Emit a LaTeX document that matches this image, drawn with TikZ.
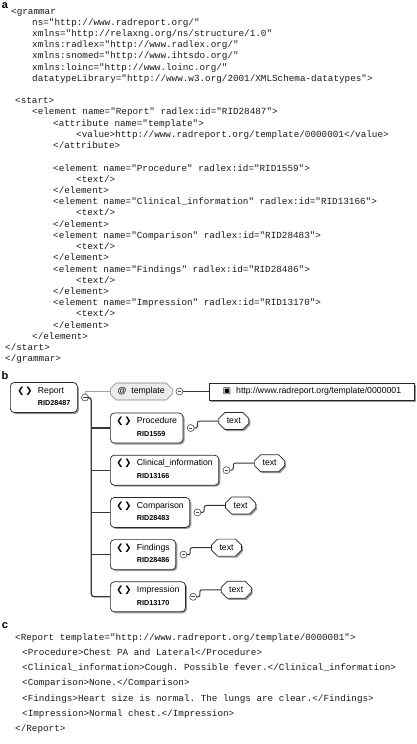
\documentclass[tikz,border=0pt]{standalone}
\usepackage{fontspec}
\setmainfont{Liberation Sans}
\setmonofont{Liberation Mono}
\newfontfamily\symfont{DejaVu Sans}
\usepackage{tikz}
\usetikzlibrary{positioning}
\usetikzlibrary{shapes.misc}
\usetikzlibrary{shadows}

\definecolor{treegray}{RGB}{55,55,55}
\definecolor{attrgray}{RGB}{160,160,160}
\definecolor{attrfill}{RGB}{236,236,236}

\newcommand{\elemlabel}[2]{%
  \begin{tabular}{@{}l@{\hspace{5.5pt}}l@{}}
    {\symfont\fontsize{8.5}{10}\selectfont ❮\hspace{0.8pt}❯} & #1\\[2.5pt]
    & {\fontsize{7.2}{8}\selectfont\bfseries #2}
  \end{tabular}}

\tikzset{
  panel/.style={font=\fontsize{11}{11}\selectfont\bfseries, inner sep=0pt},
  code/.style={font=\fontsize{9.3}{11}\selectfont\ttfamily, text=black!90, anchor=base west, inner sep=0pt},
  boxshadow/.style={drop shadow={shadow xshift=1.5pt, shadow yshift=-1.5pt, fill=black!40, opacity=1}},
  elem/.style={draw=black!85, line width=0.7pt, fill=white, rounded corners=4pt, boxshadow,
    minimum height=30pt, inner xsep=6pt, inner ysep=2pt, anchor=west,
    font=\fontsize{8.7}{10}\selectfont},
  txt/.style={chamfered rectangle, chamfered rectangle xsep=3pt, chamfered rectangle ysep=3pt,
    draw=black!85, line width=0.7pt, fill=white, boxshadow, minimum width=30pt,
    minimum height=17pt, inner sep=1pt, font=\fontsize{8.7}{10}\selectfont},
  attr/.style={chamfered rectangle, chamfered rectangle xsep=3pt, chamfered rectangle ysep=3pt,
    draw=black!50, line width=0.6pt, fill=attrfill, minimum width=62pt,
    minimum height=17pt, inner sep=1pt, font=\fontsize{8.7}{10}\selectfont},
  valbox/.style={draw=black!85, line width=0.7pt, fill=white, boxshadow, minimum width=205pt,
    minimum height=17pt, inner xsep=8pt, inner ysep=1pt, font=\fontsize{8.7}{10}\selectfont},
  minus/.style={circle, draw=black!70, fill=white, line width=0.6pt, minimum size=7pt, inner sep=0pt,
    path picture={\draw[line width=0.7pt] ([xshift=-1.8pt]path picture bounding box.center)
      -- ([xshift=1.8pt]path picture bounding box.center);}},
  branch/.style={draw=treegray, line width=1.3pt},
  textlink/.style={draw=treegray, line width=1pt},
  attrlink/.style={draw=attrgray, line width=0.6pt},
}

\begin{document}
\begin{tikzpicture}[x=1pt, y=-1pt]
  \useasboundingbox (0,0) rectangle (416,744);

  % a: RELAX NG schema
  \node[panel] (lbla) at (5,6) {a};
  \foreach \x/\k/\codetext in {
      11/0/{<grammar},
      32/1/{ns="http://www.radreport.org/"},
      32/2/{xmlns="http://relaxng.org/ns/structure/1.0"},
      32/3/{xmlns:radlex="http://www.radlex.org/"},
      32/4/{xmlns:snomed="http://www.ihtsdo.org/"},
      32/5/{xmlns:loinc="http://www.loinc.org/"},
      32/6/{datatypeLibrary="http://www.w3.org/2001/XMLSchema-datatypes">},
      15/8/{<start>},
      32/9/{<element name="Report" radlex:id="RID28487">},
      53/10/{<attribute name="template">},
      76/11/{<value>http://www.radreport.org/template/0000001</value>},
      53/12/{</attribute>},
      53/14/{<element name="Procedure" radlex:id="RID1559">},
      76/15/{<text/>},
      53/16/{</element>},
      53/17/{<element name="Clinical\_information" radlex:id="RID13166">},
      76/18/{<text/>},
      53/19/{</element>},
      53/20/{<element name="Comparison" radlex:id="RID28483">},
      76/21/{<text/>},
      53/22/{</element>},
      53/23/{<element name="Findings" radlex:id="RID28486">},
      76/24/{<text/>},
      53/25/{</element>},
      53/26/{<element name="Impression" radlex:id="RID13170">},
      76/27/{<text/>},
      53/28/{</element>},
      32/29/{</element>},
      5/30/{</start>},
      5/31/{</grammar>}}
    \node[code] (sa\k) at (\x,{14+\k*11.22}) {\codetext};

  % b: tree view
  \node[panel] (lblb) at (5,376) {b};
  \node[elem, minimum width=67pt] (report) at (10,397.5) {\elemlabel{Report}{RID28487}};
  \node[minus, right=3.5pt of report] (report-m) {};
  \coordinate[right=2.5pt of report-m.east] (trunk);

  \node[attr, anchor=west] (tpl) at (110,391.5) {\textbf{@}\hspace{5pt}template};
  \node[minus, right=3pt of tpl] (tpl-m) {};
  \node[valbox, right=26pt of tpl-m] (val) {{\symfont ▣}\hspace{5pt}http://www.radreport.org/template/0000001};

  \node[elem] (proc) at (110,428) {\elemlabel{Procedure}{RID1559}};
  \node[elem, below=11.5pt of proc.south west, anchor=north west] (clin) {\elemlabel{Clinical\_information}{RID13166}};
  \node[elem, below=11.5pt of clin.south west, anchor=north west] (comp) {\elemlabel{Comparison}{RID28483}};
  \node[elem, below=11.5pt of comp.south west, anchor=north west] (find) {\elemlabel{Findings}{RID28486}};
  \node[elem, below=11.5pt of find.south west, anchor=north west] (imp) {\elemlabel{Impression}{RID13170}};

  \foreach \e in {proc, clin, comp, find, imp} {
    \node[minus, right=3.5pt of \e] (\e-m) {};
    \node[txt, right=24pt of \e-m, yshift=7pt] (\e-t) {text};
  }

  \draw[attrlink] (report-m.north) |- (tpl.west);
  \draw[branch] (tpl-m.east) -- (val.west);
  \draw[branch, rounded corners=3pt] (report-m.east) -- (trunk) |- (imp.west);
  \foreach \e in {proc, clin, comp, find}
    \draw[branch] (trunk |- \e.west) -- (\e.west);
  \foreach \e in {proc, clin, comp, find, imp}
    \draw[textlink, rounded corners=2pt] (\e-m.east) -- ++(3,0) |- (\e-t.west);

  % c: instance document
  \node[panel] (lblc) at (5,626) {c};
  \foreach \x/\k/\codetext in {
      15/0/{<Report template="http://www.radreport.org/template/0000001">},
      22/1/{<Procedure>Chest PA and Lateral</Procedure>},
      22/2/{<Clinical\_information>Cough. Possible fever.</Clinical\_information>},
      22/3/{<Comparison>None.</Comparison>},
      22/4/{<Findings>Heart size is normal. The lungs are clear.</Findings>},
      22/5/{<Impression>Normal chest.</Impression>},
      15/6/{</Report>}}
    \node[code] (sc\k) at (\x,{640+\k*15.3}) {\codetext};
\end{tikzpicture}
\end{document}
